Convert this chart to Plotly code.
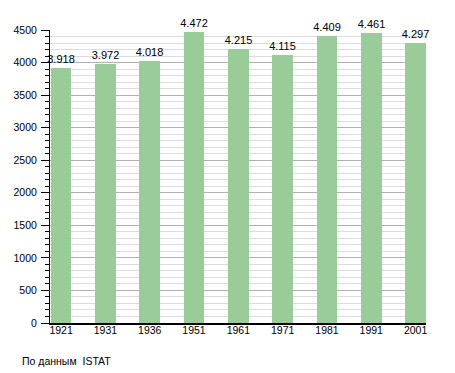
import plotly.graph_objects as go

years = ["1921", "1931", "1936", "1951", "1961", "1971", "1981", "1991", "2001"]
population = [3918, 3972, 4018, 4472, 4215, 4115, 4409, 4461, 4297]
labels = ["3.918", "3.972", "4.018", "4.472", "4.215", "4.115", "4.409", "4.461", "4.297"]

xs = list(range(len(years)))

# the page body has an 8px default margin, so the figure is drawn 8px smaller/offset
fig = go.Figure(go.Bar(
    x=xs, y=population, width=0.47,
    marker=dict(color="#99CC99", line=dict(width=0)),
    text=labels, textposition="outside", constraintext="none",
    textfont=dict(family="Liberation Sans, Arial, sans-serif", size=11, color="black"),
    cliponaxis=False,
))

fig.update_layout(
    width=447, height=365,
    margin=dict(l=42, r=29, t=22, b=50, autoexpand=False),
    plot_bgcolor="white", paper_bgcolor="white",
    font=dict(family="Liberation Sans, Arial, sans-serif", size=10.5, color="black"),
    showlegend=False,
    bargap=0,
)
fig.update_xaxes(
    range=[-0.25, 8.235], tickvals=xs, ticktext=years,
    showline=True, linecolor="black", linewidth=1.5,
    ticks="", showgrid=False, zeroline=False,
    ticklabelstandoff=-3,
)
fig.update_yaxes(
    range=[0, 4500], dtick=500, tick0=0,
    showline=True, linecolor="black", linewidth=1,
    ticks="outside", ticklen=8, tickcolor="black",
    showgrid=True, gridcolor="#b0b0b0", gridwidth=1,
    zeroline=False, ticklabelstandoff=2,
    minor=dict(dtick=100, showgrid=True, gridcolor="#dcdcdc",
               ticks="outside", ticklen=4, tickcolor="black"),
)
fig.add_annotation(
    text="По данным  ISTAT", xref="paper", yref="paper",
    x=(12 - 42) / 376, y=(315.3 - 353.7) / 293,
    xanchor="left", yanchor="middle", showarrow=False,
    font=dict(size=10.5, color="black"),
)

fig.write_html("out.html")
